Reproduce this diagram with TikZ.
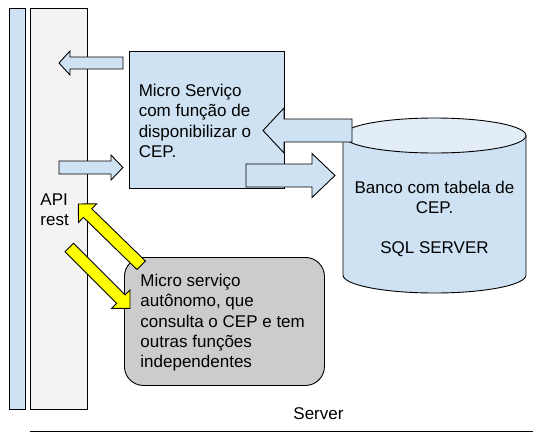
\documentclass[tikz,border=0pt]{standalone}
\usepackage{fontspec}
\setmainfont{Liberation Sans}
\usetikzlibrary{calc}
\definecolor{lblue}{HTML}{CFE2F3}
\definecolor{ltop}{HTML}{E3EDF8}
\definecolor{lgray}{HTML}{F3F3F3}
\definecolor{dgray}{HTML}{CCCCCC}
\definecolor{yel}{HTML}{FFFF00}
% block arrow: style, tail, tip, shaft half width, head half width, head length
\newcommand\blockarr[6]{%
  \coordinate (hb) at ($(#3)!#6!(#2)$);
  \draw[#1] ($(#2)!#4!-90:(#3)$) -- ($(hb)!#4!-90:(#3)$) -- ($(hb)!#5!-90:(#3)$)
    -- (#3) -- ($(hb)!#5!90:(#3)$) -- ($(hb)!#4!90:(#3)$) -- ($(#2)!#4!90:(#3)$) -- cycle;}
\tikzset{
  box/.style={draw, inner sep=0pt, anchor=north west},
  txt/.style={inner sep=0pt, font=\fontsize{17}{20.2}\selectfont},
  bluearrow/.style={draw, fill=lblue, line join=miter},
  yelarrow/.style={draw, fill=yel, line join=miter}
}
\begin{document}
\begin{tikzpicture}[x=1pt, y=-1pt, line width=0.9pt]
\useasboundingbox (0,0) rectangle (535,442);
% bars
\node[box, fill=lblue, minimum width=16pt, minimum height=401pt] (client) at (9,8) {};
\node[box, fill=lgray, minimum width=57pt, minimum height=401pt] (api) at (30,8) {};
% micro service box
\node[box, fill=lblue, minimum width=155pt, minimum height=137pt] (ms) at (129,51) {};
% cylinder
\coordinate (db) at (434.5,205);
\draw[fill=lblue] (343,135.5) -- (343,275)
  arc[start angle=180, end angle=360, x radius=91.5pt, y radius=18pt]
  -- (526,135.5) -- cycle;
\draw[fill=ltop] (434.5,135.5) ellipse[x radius=91.5pt, y radius=17.5pt];
% autonomous micro service
\node[box, fill=dgray, rounded corners=19pt, minimum width=200pt, minimum height=128pt] (msa) at (124,257) {};
% texts (anchor = baseline of the last line)
\node[txt, anchor=base west, align=left] (apitext) at (40,225.5) {API\\rest};
\node[txt, anchor=base west, align=left] (mstext) at (138.3,157.3) {Micro Serviço\\com função de\\disponibilizar o\\CEP.};
\node[txt, anchor=base, align=center] (dbtext) at (434.5,253.5) {Banco com tabela de\\CEP.\\[19.5pt]SQL SERVER};
\node[txt, anchor=base west, align=left] (msatext) at (140,367.4) {Micro serviço\\autônomo, que\\consulta o CEP e tem\\outras funções\\independentes};
\node[txt, anchor=base west] (server) at (293,419) {Server};
% blue block arrows
\coordinate (a1t) at (123,63);   \coordinate (a1h) at (59,63);
\coordinate (a2t) at (59,167.5); \coordinate (a2h) at (123,167.5);
\coordinate (a3t) at (352,130.5); \coordinate (a3h) at (263,130.5);
\coordinate (a4t) at (246,175.5); \coordinate (a4h) at (335,175.5);
\blockarr{bluearrow}{a1t}{a1h}{6pt}{12pt}{11pt}
\blockarr{bluearrow}{a2t}{a2h}{6.5pt}{12.5pt}{12pt}
\blockarr{bluearrow}{a3t}{a3h}{11.5pt}{22.5pt}{21pt}
\blockarr{bluearrow}{a4t}{a4h}{11.5pt}{22pt}{23pt}
% yellow block arrows
\coordinate (y1t) at (141.2,265.3); \coordinate (y1h) at (78.3,204);
\coordinate (y2t) at (69.2,247.5);  \coordinate (y2h) at (130,308.3);
\blockarr{yelarrow}{y1t}{y1h}{6pt}{13pt}{13pt}
\blockarr{yelarrow}{y2t}{y2h}{6pt}{13pt}{13pt}
% baseline rule
\coordinate (l1) at (30,431); \coordinate (l2) at (533,431);
\draw (l1) -- (l2);
\end{tikzpicture}
\end{document}
